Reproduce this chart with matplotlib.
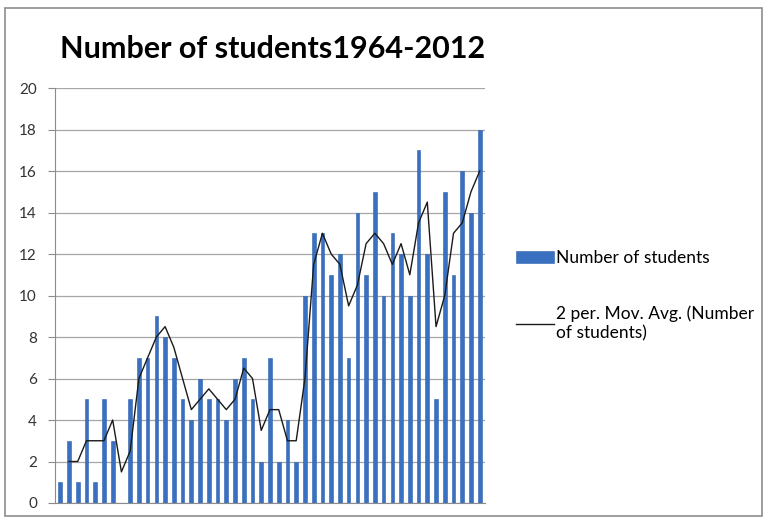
import pandas as pd
import matplotlib.pyplot as plt
from matplotlib.patches import Rectangle

plt.rcParams['font.family'] = ['Lato', 'DejaVu Sans']

years = list(range(1964, 2013))
students = [1, 3, 1, 5, 1, 5, 3, 0, 5, 7, 7, 9, 8, 7, 5, 4,
            6, 5, 5, 4, 6, 7, 5, 2, 7, 2, 4, 2, 10, 13, 13, 11,
            12, 7, 14, 11, 15, 10, 13, 12, 10, 17, 12, 5, 15, 11, 16, 14,
            18]
yticks = list(range(0, 21, 2))

df = pd.DataFrame({'year': years, 'students': students})
df['ma'] = df['students'].rolling(2).mean()   # Excel style 2 period moving average

fig = plt.figure(figsize=(7.67, 5.22), dpi=100)
ax = fig.add_axes([0.0717, 0.0364, 0.5606, 0.795])

pos = list(range(len(df)))
bars = ax.bar(pos, df['students'], width=0.42, color='#3a70c0', edgecolor='#2f62b0',
              linewidth=0.4, label='Number of students', zorder=2)
line, = ax.plot(pos, df['ma'], color='#1a1a1a', linewidth=1.0,
                label='2 per. Mov. Avg. (Number\nof students)', zorder=3)

ax.set_xlim(-0.6, len(df) - 0.4)
ax.set_ylim(0, 20)
ax.set_yticks(yticks)
ax.set_yticklabels([str(t) for t in yticks], fontsize=11, color='#333333')
ax.set_xticks([])
ax.yaxis.grid(True, color='#a6a6a6', linewidth=0.9)
ax.set_axisbelow(True)
for s in ['top', 'right']:
    ax.spines[s].set_visible(False)
for s in ['left', 'bottom']:
    ax.spines[s].set_color('#8c8c8c')
ax.tick_params(axis='y', length=5, color='#8c8c8c', pad=8)

fig.text(0.078, 0.907, 'Number of students1964-2012', fontsize=22,
         fontweight='bold', ha='left', va='center')

ax.legend([bars, line], [bars.get_label(), line.get_label()],
          loc='center left', bbox_to_anchor=(1.035, 0.50), frameon=False,
          fontsize=12.5, handlelength=2.2, handletextpad=0.1, labelspacing=2.3)

# outer chart border
fig.patches.append(Rectangle((0.007, 0.012), 0.986, 0.972, transform=fig.transFigure,
                             fill=False, edgecolor='#8c8c8c', linewidth=1.2))

fig.savefig('out.png', dpi=100)
